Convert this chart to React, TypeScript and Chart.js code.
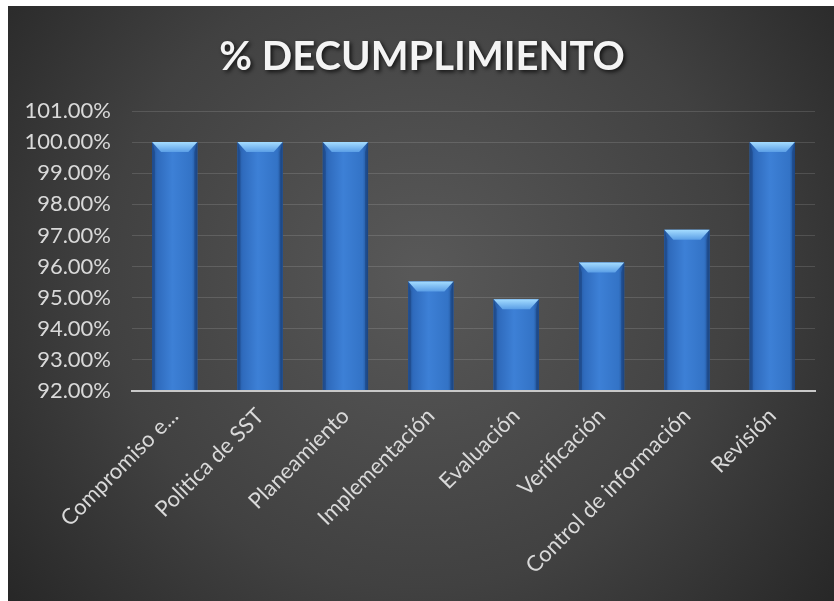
import React, { useEffect, useRef } from "react";
import { Chart, registerables } from "chart.js";

Chart.register(...registerables);

const TITLE = "% DECUMPLIMIENTO";
const categories = [
  "Compromiso e...",
  "Politica de SST",
  "Planeamiento",
  "Implementación",
  "Evaluación",
  "Verificación",
  "Control de información",
  "Revisión",
];
const values = [100, 100, 100, 95.52, 94.95, 96.13, 97.18, 100];
const yMin = 92;
const yMax = 101;
const yStep = 1;

const bgPlugin = {
  id: "bgPlugin",
  beforeDraw(chart: any) {
    const { ctx, width, height } = chart;
    ctx.save();
    const g = ctx.createRadialGradient(width * 0.5, height * 0.45, 10, width * 0.5, height * 0.45, width * 0.68);
    g.addColorStop(0, "#585858");
    g.addColorStop(0.55, "#414141");
    g.addColorStop(1, "#232323");
    ctx.fillStyle = g;
    ctx.fillRect(0, 0, width, height);
    ctx.font = "bold 40px Lato";
    ctx.textAlign = "center";
    ctx.textBaseline = "middle";
    ctx.shadowColor = "rgba(0,0,0,0.75)";
    ctx.shadowBlur = 4;
    ctx.shadowOffsetX = 2;
    ctx.shadowOffsetY = 2;
    ctx.fillStyle = "#f4f4f4";
    ctx.fillText(TITLE, width * 0.5 + 1, 51);
    ctx.restore();
  },
};

const barStylePlugin = {
  id: "barStyle",
  afterDatasetsDraw(chart: any) {
    const { ctx, chartArea } = chart;
    const meta = chart.getDatasetMeta(0);
    ctx.save();
    ctx.beginPath();
    ctx.rect(chartArea.left, chartArea.top - 2, chartArea.right - chartArea.left, chartArea.bottom - chartArea.top + 2);
    ctx.clip();
    meta.data.forEach((bar: any) => {
      const x0 = bar.x - bar.width / 2;
      const x1 = bar.x + bar.width / 2;
      const top = bar.y;
      const base = Math.min(bar.base, chartArea.bottom);
      const w = x1 - x0;
      const g = ctx.createLinearGradient(x0, 0, x1, 0);
      g.addColorStop(0, "#24589e");
      g.addColorStop(0.12, "#2f6bbd");
      g.addColorStop(0.45, "#3d80d6");
      g.addColorStop(0.88, "#3373c6");
      g.addColorStop(1, "#1f4f90");
      ctx.fillStyle = g;
      ctx.fillRect(x0, top, w, base - top);
      const bh = 10;
      const inset = 9;
      const bg = ctx.createLinearGradient(0, top, 0, top + bh);
      bg.addColorStop(0, "#a4dcff");
      bg.addColorStop(1, "#5a9ee6");
      ctx.fillStyle = bg;
      ctx.beginPath();
      ctx.moveTo(x0, top);
      ctx.lineTo(x1, top);
      ctx.lineTo(x1 - inset, top + bh);
      ctx.lineTo(x0 + inset, top + bh);
      ctx.closePath();
      ctx.fill();
      ctx.fillStyle = "rgba(20,50,100,0.35)";
      ctx.beginPath();
      ctx.moveTo(x0, top);
      ctx.lineTo(x0 + 3, top + bh);
      ctx.lineTo(x0 + 3, base);
      ctx.lineTo(x0, base);
      ctx.closePath();
      ctx.fill();
      ctx.beginPath();
      ctx.moveTo(x1, top);
      ctx.lineTo(x1 - 3, top + bh);
      ctx.lineTo(x1 - 3, base);
      ctx.lineTo(x1, base);
      ctx.closePath();
      ctx.fill();
    });
    ctx.restore();
  },
};

export default function App() {
  const ref = useRef<HTMLCanvasElement>(null);
  useEffect(() => {
    if (!ref.current) return;
    const chart = new Chart(ref.current, {
      type: "bar",
      data: {
        labels: categories,
        datasets: [
          {
            data: values,
            backgroundColor: "#3a7bd0",
            borderWidth: 0,
            barPercentage: 0.53,
            categoryPercentage: 1,
          },
        ],
      },
      options: {
        animation: false,
        responsive: false,
        maintainAspectRatio: false,
        layout: { padding: { top: 105, right: 19, left: 0, bottom: 0 } },
        plugins: {
          legend: { display: false },
          title: { display: false },
          tooltip: { enabled: false },
        },
        scales: {
          x: {
            grid: { display: false, drawTicks: false },
            border: { display: true, color: "#c8c8c8", width: 2, z: 2 },
            ticks: {
              color: "#d9d9d9",
              font: { family: "Lato", size: 22 },
              minRotation: 45,
              maxRotation: 45,
              autoSkip: false,
              padding: 12,
            },
            afterFit(scale: any) {
              scale.height = 210;
            },
          },
          y: {
            min: yMin,
            max: yMax,
            grid: { color: "rgba(255,255,255,0.13)", lineWidth: 1, drawTicks: false },
            border: { display: false },
            ticks: {
              stepSize: yStep,
              color: "#d9d9d9",
              font: { family: "Lato", size: 22 },
              padding: 21,
              callback: (v: any) => Number(v).toFixed(2) + "%",
            },
            afterFit(scale: any) {
              scale.width = 124;
            },
          },
        },
      },
      plugins: [bgPlugin, barStylePlugin],
    });
    return () => chart.destroy();
  }, []);
  return (
    <div style={{ position: "absolute", left: 8, top: 6, width: 826, height: 595 }}>
      <canvas ref={ref} width={826} height={595} style={{ display: "block" }} />
    </div>
  );
}
